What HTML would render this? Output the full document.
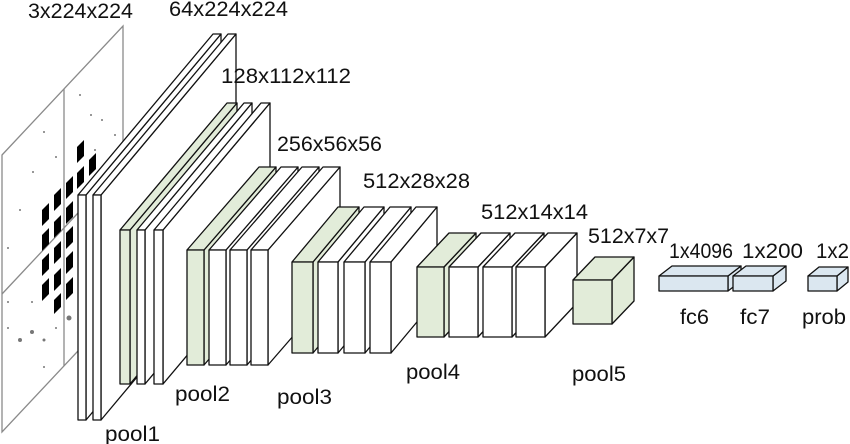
<!DOCTYPE html>
<html><head><meta charset="utf-8"><style>
html,body{margin:0;padding:0;background:#fff;width:850px;height:444px;overflow:hidden;}
svg{display:block;}
text{font-family:"Liberation Sans",sans-serif;font-size:21px;fill:#111;}
</style></head><body>
<svg width="850" height="444" viewBox="0 0 850 444" xmlns="http://www.w3.org/2000/svg">
<g stroke="#8a8a8a" stroke-width="1.3" fill="#fff">
<polygon points="2,155 123,26 123,303 2,432"/>
<line x1="64" y1="89" x2="64" y2="366"/>
<line x1="2" y1="294" x2="123" y2="165"/>
</g>
<g fill="#000">
<polygon points="77,147 84,140 84,156 77,163"/>
<polygon points="89,160 96,153 96,169 89,176"/>
<polygon points="77,173 84,166 84,182 77,189"/>
<polygon points="66,183 73,176 73,192 66,199"/>
<polygon points="54,195 61,188 61,204 54,211"/>
<polygon points="66,208 73,201 73,217 66,224"/>
<polygon points="42,210 49,203 49,219 42,226"/>
<polygon points="54,222 61,215 61,231 54,238"/>
<polygon points="42,235 49,228 49,244 42,251"/>
<polygon points="66,233 73,226 73,242 66,249"/>
<polygon points="54,248 61,241 61,257 54,264"/>
<polygon points="42,260 49,253 49,269 42,276"/>
<polygon points="66,258 73,251 73,267 66,274"/>
<polygon points="54,275 61,268 61,284 54,291"/>
<polygon points="42,285 49,278 49,294 42,301"/>
<polygon points="66,284 73,277 73,293 66,300"/>
<polygon points="54,300 61,293 61,307 54,314"/>
</g>
<g fill="#777">
<circle cx="80" cy="95" r="1"/><circle cx="91" cy="115" r="1"/><circle cx="44" cy="132" r="1"/><circle cx="56" cy="157" r="1"/>
<circle cx="33" cy="172" r="1"/><circle cx="20" cy="210" r="1"/><circle cx="8" cy="248" r="1"/><circle cx="102" cy="120" r="1"/>
<circle cx="115" cy="135" r="1"/><circle cx="8" cy="302" r="1"/><circle cx="32" cy="302" r="1"/><circle cx="44" cy="367" r="1"/>
<circle cx="56" cy="328" r="1"/><circle cx="8" cy="328" r="1"/><circle cx="95" cy="150" r="1"/><circle cx="105" cy="165" r="1"/>
<circle cx="20" cy="340" r="2"/><circle cx="32" cy="332" r="2"/><circle cx="44" cy="340" r="1.5"/><circle cx="69" cy="318" r="2.5"/>
</g>
<g stroke="#111" stroke-width="1.3" stroke-linejoin="round">
<g fill="#fff">
<polygon points="86,195 221,34 221,259 86,420"/><polygon points="78,195 213,34 221,34 86,195"/><rect x="78" y="195" width="8" height="225"/>
<polygon points="101,195 236,34 236,259 101,420"/><polygon points="93,195 228,34 236,34 101,195"/><rect x="93" y="195" width="8" height="225"/>
</g>
<g fill="#e2ecd9"><polygon points="130,230 237,103 237,257 130,384"/><polygon points="120,230 227,103 237,103 130,230"/><rect x="120" y="230" width="10" height="154"/></g>
<g fill="#fff">
<polygon points="145,230 252,103 252,257 145,384"/><polygon points="137,230 244,103 252,103 145,230"/><rect x="137" y="230" width="8" height="154"/>
<polygon points="163,230 270,103 270,257 163,384"/><polygon points="154,230 261,103 270,103 163,230"/><rect x="154" y="230" width="9" height="154"/>
</g>
<g fill="#e2ecd9"><polygon points="204,250 276,167 276,282 204,365"/><polygon points="187,250 259,167 276,167 204,250"/><rect x="187" y="250" width="17" height="115"/></g>
<g fill="#fff">
<polygon points="226,250 298,167 298,282 226,365"/><polygon points="209,250 281,167 298,167 226,250"/><rect x="209" y="250" width="17" height="115"/>
<polygon points="247,250 319,167 319,282 247,365"/><polygon points="230,250 302,167 319,167 247,250"/><rect x="230" y="250" width="17" height="115"/>
<polygon points="268,250 340,167 340,282 268,365"/><polygon points="251,250 323,167 340,167 268,250"/><rect x="251" y="250" width="17" height="115"/>
</g>
<g fill="#e2ecd9"><polygon points="313,262 359,207 359,298 313,353"/><polygon points="292,262 338,207 359,207 313,262"/><rect x="292" y="262" width="21" height="91"/></g>
<g fill="#fff">
<polygon points="338,262 384,207 384,298 338,353"/><polygon points="318,262 364,207 384,207 338,262"/><rect x="318" y="262" width="20" height="91"/>
<polygon points="365,262 411,207 411,298 365,353"/><polygon points="344,262 390,207 411,207 365,262"/><rect x="344" y="262" width="21" height="91"/>
<polygon points="391,262 437,207 437,298 391,353"/><polygon points="370,262 416,207 437,207 391,262"/><rect x="370" y="262" width="21" height="91"/>
</g>
<g fill="#e2ecd9"><polygon points="444,267 476,233 476,303 444,337"/><polygon points="417,267 449,233 476,233 444,267"/><rect x="417" y="267" width="27" height="70"/></g>
<g fill="#fff">
<polygon points="478,267 510,233 510,303 478,337"/><polygon points="449,267 481,233 510,233 478,267"/><rect x="449" y="267" width="29" height="70"/>
<polygon points="512,267 544,233 544,303 512,337"/><polygon points="483,267 515,233 544,233 512,267"/><rect x="483" y="267" width="29" height="70"/>
<polygon points="545,267 577,233 577,303 545,337"/><polygon points="516,267 548,233 577,233 545,267"/><rect x="516" y="267" width="29" height="70"/>
</g>
<g fill="#e2ecd9"><polygon points="612,280 634,257 634,301 612,324"/><polygon points="573,280 595,257 634,257 612,280"/><rect x="573" y="280" width="39" height="44"/></g>
<g fill="#dbe7f0">
<polygon points="728,276 741,266 741,281 728,291"/><polygon points="659,276 672,266 741,266 728,276"/><rect x="659" y="276" width="69" height="15"/>
<polygon points="773,276 786,266 786,281 773,291"/><polygon points="733,276 746,266 786,266 773,276"/><rect x="733" y="276" width="40" height="15"/>
<polygon points="837,276 848,267 848,282 837,291"/><polygon points="808,276 819,267 848,267 837,276"/><rect x="808" y="276" width="29" height="15"/>
</g>
</g>
<text x="28" y="18" textLength="105" lengthAdjust="spacingAndGlyphs">3x224x224</text>
<text x="169" y="16" textLength="119" lengthAdjust="spacingAndGlyphs">64x224x224</text>
<text x="221" y="83" textLength="130" lengthAdjust="spacingAndGlyphs">128x112x112</text>
<text x="277" y="151" textLength="105" lengthAdjust="spacingAndGlyphs">256x56x56</text>
<text x="363" y="188" textLength="107" lengthAdjust="spacingAndGlyphs">512x28x28</text>
<text x="481" y="219" textLength="107" lengthAdjust="spacingAndGlyphs">512x14x14</text>
<text x="588" y="243" textLength="81" lengthAdjust="spacingAndGlyphs">512x7x7</text>
<text x="669" y="258" textLength="64" lengthAdjust="spacingAndGlyphs">1x4096</text>
<text x="742" y="258" textLength="61" lengthAdjust="spacingAndGlyphs">1x200</text>
<text x="816" y="258" textLength="33" lengthAdjust="spacingAndGlyphs">1x2</text>
<text x="680" y="324" textLength="29" lengthAdjust="spacingAndGlyphs">fc6</text>
<text x="740" y="324" textLength="30" lengthAdjust="spacingAndGlyphs">fc7</text>
<text x="802" y="324" textLength="44" lengthAdjust="spacingAndGlyphs">prob</text>
<text x="105" y="441" textLength="55" lengthAdjust="spacingAndGlyphs">pool1</text>
<text x="175" y="401" textLength="55" lengthAdjust="spacingAndGlyphs">pool2</text>
<text x="277" y="404" textLength="55" lengthAdjust="spacingAndGlyphs">pool3</text>
<text x="406" y="379" textLength="54" lengthAdjust="spacingAndGlyphs">pool4</text>
<text x="572" y="381" textLength="54" lengthAdjust="spacingAndGlyphs">pool5</text>
</svg>
</body></html>
